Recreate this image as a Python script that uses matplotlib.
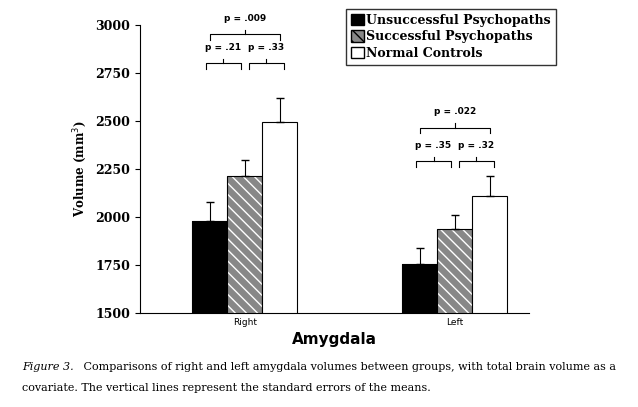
import numpy as np
import matplotlib.pyplot as plt
from matplotlib.patches import Patch

groups = ['Right', 'Left']
series = ['Unsuccessful Psychopaths', 'Successful Psychopaths', 'Normal Controls']
means = {'Unsuccessful Psychopaths': [1980, 1755],
         'Successful Psychopaths': [2215, 1935],
         'Normal Controls': [2495, 2110]}
errors = {'Unsuccessful Psychopaths': [98, 85],
          'Successful Psychopaths': [80, 75],
          'Normal Controls': [125, 102]}
p_values = [('.21', '.33', '.009'), ('.35', '.32', '.022')]

fig = plt.figure(figsize=(6.38, 4.07), dpi=100)
ax = fig.add_axes([0.219, 0.231, 0.61, 0.708])

centers = np.array([1.08, 3.24])
w = 0.36
styles = [dict(color='black'), dict(color='#888888', hatch='\\\\\\', edgecolor='white'),
          dict(color='white')]
for i, (s, st) in enumerate(zip(series, styles)):
    x = centers + (i - 1) * w
    ax.bar(x, means[s], w, linewidth=0, **st)
    ax.bar(x, means[s], w, fill=False, edgecolor='black', linewidth=0.8)
    ax.errorbar(x, means[s], yerr=[np.zeros(2), errors[s]], fmt='none',
                ecolor='black', capsize=3, elinewidth=0.8)

def bracket(x1, x2, y, txt, h=30):
    ax.plot([x1, x1, x2, x2], [y - h, y, y, y - h], color='black', lw=0.8, clip_on=False)
    ax.plot([(x1 + x2) / 2] * 2, [y, y + h * 0.8], color='black', lw=0.8, clip_on=False)
    ax.text((x1 + x2) / 2, y + h * 2.0, 'p = ' + txt, ha='center', va='bottom',
            fontsize=6.5, fontweight='bold')

for c, (p1, p2, p3), ys in zip(centers, p_values, [(2800, 2950), (2290, 2465)]):
    bracket(c - w - 0.04, c - 0.04, ys[0], p1)
    bracket(c + 0.04, c + w + 0.04, ys[0], p2)
    bracket(c - w, c + w, ys[1], p3)

ax.set_xlim(0, 4)
ax.set_ylim(1500, 3000)
ax.set_yticks(range(1500, 3001, 250))
for t in ax.get_yticklabels():
    t.set_fontfamily('DejaVu Serif')
    t.set_fontweight('bold')
    t.set_fontsize(9)
ax.set_xticks(centers)
ax.set_xticklabels(groups, fontsize=6.5)
ax.tick_params(axis='x', length=0)
ax.spines['top'].set_visible(False)
ax.spines['right'].set_visible(False)
ax.set_xlabel('Amygdala', fontsize=11, fontweight='bold', labelpad=4)
ax.set_ylabel('Volume (mm$^3$)', fontsize=8.5, fontweight='bold', family='DejaVu Serif')

handles = [Patch(facecolor='black', edgecolor='black'),
           Patch(facecolor='#888888', hatch='\\\\\\', edgecolor='black'),
           Patch(facecolor='white', edgecolor='black')]
fig.legend(handles, series, loc='upper right', bbox_to_anchor=(0.875, 0.985), frameon=True,
           fancybox=False, edgecolor='black', prop=dict(family='DejaVu Serif', weight='bold', size=9),
           handlelength=1.0, handleheight=1.0, handletextpad=0.2, labelspacing=0.3,
           borderaxespad=0.2)

fig.text(0.035, 0.09, 'Figure 3.', fontsize=8, style='italic', family='DejaVu Serif')
fig.text(0.125, 0.09, ' Comparisons of right and left amygdala volumes between groups, with total brain volume as a',
         fontsize=8, family='DejaVu Serif')
fig.text(0.035, 0.04, 'covariate. The vertical lines represent the standard errors of the means.',
         fontsize=8, family='DejaVu Serif')

fig.savefig('out.png', dpi=100)
